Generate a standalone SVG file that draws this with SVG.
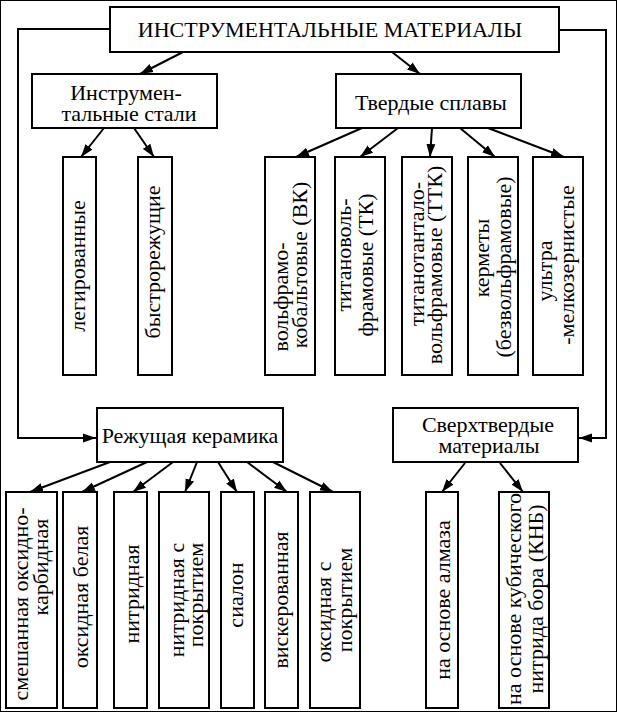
<svg xmlns="http://www.w3.org/2000/svg" width="617" height="712" viewBox="0 0 617 712">
<defs>
<style>
rect{fill:#fff;stroke:#000;stroke-width:2}
text{font-family:"Liberation Serif","Times New Roman",serif;font-size:22px;fill:#000}
.h{text-anchor:middle}
.v{text-anchor:middle}
.c{fill:none;stroke:#000;stroke-width:2;marker-end:url(#ah)}
</style>
<marker id="ah" markerUnits="userSpaceOnUse" markerWidth="14" markerHeight="10" refX="13" refY="5" orient="auto">
<path d="M0,0.5 L13,5 L0,9.5 z" fill="#000"/>
</marker>
</defs>
<rect width="617" height="712" fill="#fff" stroke="none"/>
<g id="connectors">
<polyline class="c" points="110,29 18,29 18,438 96,438"/>
<polyline class="c" points="559,30 606,30 606,438 579,438"/>
<line class="c" x1="183" y1="52" x2="140" y2="74"/>
<line class="c" x1="392" y1="52" x2="420" y2="74"/>
<line class="c" x1="104" y1="128" x2="81" y2="157"/>
<line class="c" x1="134" y1="128" x2="154" y2="157"/>
<line class="c" x1="362" y1="128" x2="296" y2="157"/>
<line class="c" x1="398" y1="128" x2="360" y2="157"/>
<line class="c" x1="432" y1="128" x2="430" y2="157"/>
<line class="c" x1="460" y1="128" x2="495" y2="157"/>
<line class="c" x1="488" y1="128" x2="564" y2="157"/>
<line class="c" x1="110" y1="462" x2="30" y2="492"/>
<line class="c" x1="147" y1="462" x2="82" y2="492"/>
<line class="c" x1="173" y1="462" x2="133" y2="492"/>
<line class="c" x1="197" y1="462" x2="185" y2="492"/>
<line class="c" x1="218" y1="462" x2="237" y2="492"/>
<line class="c" x1="247" y1="462" x2="287" y2="492"/>
<line class="c" x1="273" y1="462" x2="333" y2="492"/>
<line class="c" x1="465" y1="463" x2="442" y2="492"/>
<line class="c" x1="500" y1="463" x2="523" y2="492"/>
</g>
<g id="n-top"><rect x="110" y="7" width="449" height="45"/><text class="h" x="330" y="37" font-size="23">ИНСТРУМЕНТАЛЬНЫЕ МАТЕРИАЛЫ</text></g>
<g id="n-steel"><rect x="32" y="74" width="185" height="54"/><text class="h" x="126" y="100">Инструмен-</text><text class="h" x="129" y="121">тальные стали</text></g>
<g id="n-hard"><rect x="336" y="74" width="185" height="54"/><text class="h" x="431" y="110">Твердые сплавы</text></g>
<g id="n-leg"><rect x="63" y="157" width="33" height="218"/><text class="v" transform="translate(85,266) rotate(-90)">легированные</text></g>
<g id="n-bys"><rect x="138" y="157" width="34" height="218"/><text class="v" transform="translate(159.5,262) rotate(-90)">быстрорежущие</text></g>
<g id="n-vk"><rect x="265" y="157" width="50" height="218"/><text class="v" transform="translate(288,297) rotate(-90)">вольфрамо-</text><text class="v" transform="translate(307,265) rotate(-90)">кобальтовые (ВК)</text></g>
<g id="n-tk"><rect x="335" y="157" width="50" height="218"/><text class="v" transform="translate(351,255) rotate(-90)">титановоль-</text><text class="v" transform="translate(373,265) rotate(-90)">фрамовые (ТК)</text></g>
<g id="n-ttk"><rect x="402" y="157" width="50" height="218"/><text class="v" transform="translate(423.5,254) rotate(-90)">титанотантало-</text><text class="v" transform="translate(442,265) rotate(-90)">вольфрамовые (ТТК)</text></g>
<g id="n-cerm"><rect x="468" y="157" width="50" height="218"/><text class="v" transform="translate(488.5,258) rotate(-90)">керметы</text><text class="v" transform="translate(510.5,267) rotate(-90)">(безвольфрамовые)</text></g>
<g id="n-ultra"><rect x="533" y="157" width="50" height="218"/><text class="v" transform="translate(551.5,271) rotate(-90)">ультра</text><text class="v" transform="translate(573.5,265) rotate(-90)">-мелкозернистые</text></g>
<g id="n-cer"><rect x="97" y="408" width="186" height="54"/><text class="h" x="190" y="443">Режущая керамика</text></g>
<g id="n-super"><rect x="393" y="408" width="185" height="54"/><text class="h" x="488" y="432">Сверхтвердые</text><text class="h" x="489" y="453">материалы</text></g>
<g id="n-mix"><rect x="6" y="492" width="51" height="216"/><text class="v" transform="translate(27.5,604) rotate(-90)">смешанная оксидно-</text><text class="v" transform="translate(47.5,567) rotate(-90)">карбидная</text></g>
<g id="n-white"><rect x="63" y="492" width="34" height="216"/><text class="v" transform="translate(87.5,597) rotate(-90)">оксидная белая</text></g>
<g id="n-nitr"><rect x="114" y="492" width="33" height="216"/><text class="v" transform="translate(138.5,594) rotate(-90)">нитридная</text></g>
<g id="n-nitrc"><rect x="159" y="492" width="50" height="216"/><text class="v" transform="translate(183.5,600) rotate(-90)">нитридная с</text><text class="v" transform="translate(202.5,595) rotate(-90)">покрытием</text></g>
<g id="n-sial"><rect x="221" y="492" width="33" height="216"/><text class="v" transform="translate(242.5,595) rotate(-90)">сиалон</text></g>
<g id="n-whisk"><rect x="265" y="492" width="33" height="216"/><text class="v" transform="translate(287.5,600) rotate(-90)">вискерованная</text></g>
<g id="n-oxc"><rect x="310" y="492" width="50" height="216"/><text class="v" transform="translate(330.5,612) rotate(-90)">оксидная с</text><text class="v" transform="translate(351.5,600) rotate(-90)">покрытием</text></g>
<g id="n-diam"><rect x="426" y="492" width="32" height="216"/><text class="v" transform="translate(449.5,600) rotate(-90)">на основе алмаза</text></g>
<g id="n-cbn"><rect x="499" y="492" width="50" height="216"/><text class="v" transform="translate(520.5,599) rotate(-90)">на основе кубического</text><text class="v" transform="translate(542.5,599) rotate(-90)">нитрида бора (КНБ)</text></g>
</svg>
